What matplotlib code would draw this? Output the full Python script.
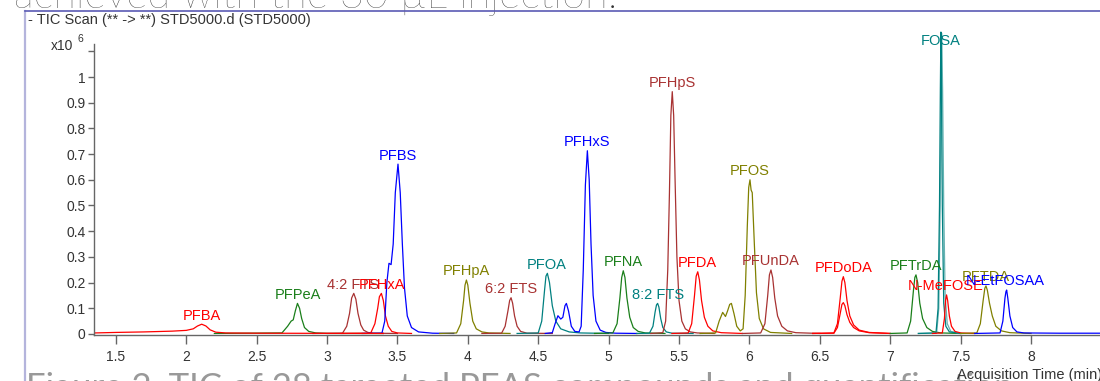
import matplotlib
matplotlib.use("Agg")
import matplotlib.pyplot as plt
from matplotlib.lines import Line2D

plt.rcParams['font.family'] = ['Liberation Sans', 'DejaVu Sans']

# ---------------- data ----------------
x_ticks = [1.5, 2, 2.5, 3, 3.5, 4, 4.5, 5, 5.5, 6, 6.5, 7, 7.5, 8]
x_tick_labels = ['1.5', '2', '2.5', '3', '3.5', '4', '4.5', '5', '5.5', '6', '6.5', '7', '7.5', '8']
y_ticks = [0, 0.1, 0.2, 0.3, 0.4, 0.5, 0.6, 0.7, 0.8, 0.9, 1.0, 1.1]
y_tick_labels = ['0', '0.1', '0.2', '0.3', '0.4', '0.5', '0.6', '0.7', '0.8', '0.9', '1', '']

PFBA_t = [1.35, 1.5, 1.7, 1.9, 2.0, 2.05, 2.08, 2.11, 2.14, 2.17, 2.21, 2.28, 2.5, 3.4]
PFBA_y = [.004, .006, .008, .011, .014, .02, .031, .038, .031, .016, .007, .004, .003, .002]

PFPeA_t = [2.2, 2.68, 2.72, 2.745, 2.76, 2.775, 2.79, 2.805, 2.82, 2.84, 2.87, 2.92, 3.0, 3.4]
PFPeA_y = [.002, .004, .03, .05, .055, .09, .119, .10, .06, .025, .01, .004, .002, .002]

FTS42_t = [2.9, 3.11, 3.14, 3.16, 3.175, 3.19, 3.205, 3.22, 3.24, 3.26, 3.29, 3.33, 3.5]
FTS42_y = [.002, .003, .03, .08, .14, .158, .135, .08, .035, .015, .006, .003, .002]

PFHxA_t = [3.1, 3.31, 3.34, 3.36, 3.372, 3.386, 3.40, 3.415, 3.435, 3.46, 3.5, 3.6]
PFHxA_y = [.002, .003, .04, .10, .145, .158, .13, .07, .03, .01, .004, .002]

PFBS_t = [3.25, 3.39, 3.41, 3.425, 3.44, 3.455, 3.47, 3.485, 3.504, 3.52, 3.535, 3.55, 3.57, 3.6, 3.65, 3.75, 3.9]
PFBS_y = [.002, .003, .05, .2, .275, .27, .35, .55, .661, .55, .35, .18, .07, .025, .008, .003, .002]

PFHpA_t = [3.8, 3.92, 3.95, 3.97, 3.98, 3.99, 4.0, 4.015, 4.035, 4.06, 4.1, 4.15, 4.3]
PFHpA_y = [.002, .004, .04, .13, .19, .21, .19, .12, .05, .02, .008, .004, .002]

FTS62_t = [4.1, 4.24, 4.265, 4.285, 4.297, 4.307, 4.318, 4.332, 4.35, 4.375, 4.42, 4.6]
FTS62_y = [.002, .003, .03, .09, .13, .141, .12, .07, .03, .01, .003, .002]

PFOA_t = [4.35, 4.5, 4.525, 4.545, 4.555, 4.565, 4.58, 4.6, 4.625, 4.66, 4.72, 4.8, 5.0]
PFOA_y = [.002, .004, .05, .17, .225, .236, .20, .11, .05, .02, .008, .004, .002]

PFHxS_t = [4.55, 4.6, 4.62, 4.64, 4.66, 4.675, 4.69, 4.70, 4.715, 4.735, 4.76, 4.79, 4.805, 4.82,
           4.835, 4.849, 4.862, 4.875, 4.89, 4.91, 4.94, 4.98, 5.05, 5.2]
PFHxS_y = [.002, .005, .04, .071, .058, .065, .11, .119, .09, .03, .01, .008, .03, .25,
           .58, .713, .6, .35, .15, .05, .015, .006, .003, .002]

PFNA_t = [4.9, 5.03, 5.06, 5.08, 5.093, 5.104, 5.116, 5.13, 5.15, 5.175, 5.21, 5.26, 5.4]
PFNA_y = [.002, .004, .04, .14, .22, .246, .22, .14, .065, .025, .01, .004, .002]

FTS82_t = [5.2, 5.29, 5.315, 5.33, 5.34, 5.348, 5.357, 5.37, 5.385, 5.41, 5.45, 5.6]
FTS82_y = [.002, .003, .03, .085, .113, .119, .105, .06, .025, .008, .003, .002]

PFHpS_t = [5.3, 5.385, 5.405, 5.42, 5.432, 5.442, 5.452, 5.462, 5.472, 5.485, 5.5, 5.52, 5.545, 5.58, 5.63, 5.75]
PFHpS_y = [.002, .005, .05, .25, .55, .85, .943, .85, .6, .3, .13, .05, .02, .008, .004, .002]

PFDA_t = [5.45, 5.565, 5.59, 5.61, 5.622, 5.633, 5.645, 5.66, 5.68, 5.705, 5.74, 5.8, 5.95]
PFDA_y = [.002, .004, .04, .15, .225, .242, .21, .13, .065, .03, .012, .005, .002]

PFOS_t = [5.65, 5.76, 5.785, 5.81, 5.83, 5.845, 5.86, 5.872, 5.89, 5.91, 5.935, 5.955, 5.97, 5.985,
          5.995, 6.004, 6.012, 6.02, 6.035, 6.05, 6.07, 6.1, 6.15, 6.3]
PFOS_y = [.002, .004, .05, .084, .068, .09, .115, .119, .08, .03, .012, .02, .15, .42,
          .57, .6, .56, .55, .35, .16, .06, .02, .006, .002]

PFUnDA_t = [5.95, 6.08, 6.11, 6.13, 6.142, 6.153, 6.165, 6.18, 6.2, 6.23, 6.27, 6.33, 6.5]
PFUnDA_y = [.002, .004, .04, .15, .23, .249, .22, .14, .07, .03, .012, .005, .002]

PFDoDA_t = [6.45, 6.6, 6.625, 6.645, 6.657, 6.667, 6.678, 6.693, 6.713, 6.74, 6.78, 6.85, 7.0]
PFDoDA_y = [.002, .004, .04, .14, .205, .223, .2, .13, .07, .035, .015, .006, .002]
PFDoDA2_y = [.002, .003, .025, .08, .115, .122, .11, .075, .045, .025, .012, .005, .002]

PFTrDA_t = [7.0, 7.12, 7.145, 7.165, 7.175, 7.183, 7.195, 7.21, 7.23, 7.26, 7.3, 7.36, 7.5]
PFTrDA_y = [.002, .004, .05, .17, .22, .23, .2, .12, .06, .025, .01, .004, .002]

FOSA_t = [7.2, 7.325, 7.34, 7.35, 7.356, 7.36, 7.364, 7.37, 7.38, 7.395, 7.42, 7.5]
FOSA_y = [.002, .004, .1, .5, .95, 1.175, .95, .5, .12, .03, .008, .002]
FOSA2_t = [7.2, 7.33, 7.345, 7.355, 7.362, 7.366, 7.372, 7.38, 7.39, 7.405, 7.43, 7.5]
FOSA2_y = [.002, .004, .1, .5, .95, 1.17, .95, .5, .15, .04, .01, .002]

NMeFOSE_t = [7.3, 7.37, 7.385, 7.393, 7.4, 7.408, 7.42, 7.435, 7.46, 7.5, 7.6]
NMeFOSE_y = [.002, .004, .06, .13, .152, .13, .07, .03, .01, .004, .002]

PFTDA_t = [7.5, 7.615, 7.64, 7.66, 7.672, 7.68, 7.69, 7.705, 7.725, 7.75, 7.79, 7.85, 8.0]
PFTDA_y = [.002, .004, .04, .13, .178, .187, .17, .12, .07, .03, .012, .005, .002]

NEtFOSAA_t = [7.6, 7.78, 7.8, 7.815, 7.822, 7.827, 7.835, 7.85, 7.87, 7.9, 7.95, 8.2, 8.7]
NEtFOSAA_y = [.002, .004, .05, .14, .165, .171, .14, .07, .025, .008, .004, .003, .003]

label_names = ['PFBA', 'PFPeA', '4:2 FTS', 'PFHxA', 'PFBS', 'PFHpA', '6:2 FTS', 'PFOA', 'PFHxS',
               'PFNA', '8:2 FTS', 'PFHpS', 'PFDA', 'PFOS', 'PFUnDA', 'PFDoDA', 'PFTrDA',
               'N-MeFOSE', 'PFTDA', 'N-EtFOSAA']
label_times = [2.11, 2.79, 3.185, 3.39, 3.5, 3.99, 4.307, 4.56, 4.849, 5.104, 5.348, 5.452, 5.633,
               6.004, 6.153, 6.667, 7.183, 7.39, 7.68, 7.82]
label_heights = [.038, .119, .158, .158, .661, .21, .141, .236, .713, .246, .119, .943, .242,
                 .6, .249, .223, .23, .152, .187, .171]
FOSA_label = ('FOSA', 7.36, 1.14)

# ---------------- styles ----------------
RED = '#ff0000'
BLUE = '#0000ff'
GREEN = '#1a7f1a'
BROWN = '#a83232'
OLIVE = '#808000'
TEAL = '#008080'
LTEAL = '#66b3b3'

traces = [
    (PFPeA_t, PFPeA_y, GREEN),
    (FTS42_t, FTS42_y, BROWN),
    (PFHxA_t, PFHxA_y, RED),
    (PFBS_t, PFBS_y, BLUE),
    (PFHpA_t, PFHpA_y, OLIVE),
    (FTS62_t, FTS62_y, BROWN),
    (PFOA_t, PFOA_y, TEAL),
    (PFHxS_t, PFHxS_y, BLUE),
    (PFNA_t, PFNA_y, GREEN),
    (FTS82_t, FTS82_y, TEAL),
    (PFHpS_t, PFHpS_y, BROWN),
    (PFDA_t, PFDA_y, RED),
    (PFOS_t, PFOS_y, OLIVE),
    (PFUnDA_t, PFUnDA_y, BROWN),
    (PFDoDA_t, PFDoDA2_y, RED),
    (PFDoDA_t, PFDoDA_y, RED),
    (PFTrDA_t, PFTrDA_y, GREEN),
    (FOSA2_t, FOSA2_y, LTEAL),
    (FOSA_t, FOSA_y, TEAL),
    (NMeFOSE_t, NMeFOSE_y, RED),
    (PFTDA_t, PFTDA_y, OLIVE),
    (NEtFOSAA_t, NEtFOSAA_y, BLUE),
    (PFBA_t, PFBA_y, RED),
]
label_colors = [RED, GREEN, BROWN, RED, BLUE, OLIVE, BROWN, TEAL, BLUE, GREEN, TEAL, BROWN, RED,
                OLIVE, BROWN, RED, GREEN, RED, OLIVE, BLUE]

W, H = 1100, 381
fig = plt.figure(figsize=(W / 100, H / 100), dpi=100)

# surrounding document text, cropped by the screenshot (drawn underneath)
fig.text(14 / W, 1 - 8.5 / H, 'achieved with the 30 µL injection.', ha='left', va='baseline',
         fontsize=30, color='#333333', family=['Lato', 'DejaVu Sans'], fontweight='light', zorder=0)
fig.text(26 / W, 1 - 372 / H, 'Figure 2. TIC of 28 targeted PFAS compounds and quantification',
         ha='left', va='top', fontsize=25, color='#999999', family=['Lato', 'DejaVu Sans'], zorder=0)

# axes geometry (pixel based)
left_px, right_px, bottom_px, top_px = 94, 1130, 335, 43.6
ax = fig.add_axes([left_px / W, (H - bottom_px) / H, (right_px - left_px) / W, (bottom_px - top_px) / H])
ax.patch.set_alpha(0)
ax.set_xlim(1.345, 8.703)
ax.set_ylim(-0.004, 1.13)

for t, y, c in traces:
    ax.plot(t, y, color=c, lw=0.9, clip_on=False, solid_joinstyle='round')

for name, tt, hh, c in zip(label_names, label_times, label_heights, label_colors):
    ax.annotate(name, xy=(tt, hh), xytext=(0, 3.3), textcoords='offset points',
                ha='center', va='baseline', color=c, fontsize=10.5)
ax.text(FOSA_label[1], FOSA_label[2], FOSA_label[0], ha='center', va='center',
        color=TEAL, fontsize=10.5, clip_on=False)

for s in ['top', 'right']:
    ax.spines[s].set_visible(False)
for s in ['left', 'bottom']:
    ax.spines[s].set_color('#666666')
    ax.spines[s].set_linewidth(1.0)

ax.set_xticks(x_ticks)
ax.set_xticklabels(x_tick_labels)
ax.set_yticks(y_ticks)
ax.set_yticklabels(y_tick_labels)
ax.tick_params(axis='x', length=6.5, width=1, color='#666666', pad=4, labelsize=10, labelcolor='#333333')
ax.tick_params(axis='y', length=4, width=1, color='#666666', pad=2, labelsize=10, labelcolor='#333333')

# x10^6 multiplier
fig.text(73 / W, 1 - 49.5 / H, 'x10', ha='right', va='baseline', fontsize=10, color='#333333')
fig.text(77 / W, 1 - 42 / H, '6', ha='left', va='baseline', fontsize=7.5, color='#333333')

# x axis title (cropped at right edge)
fig.text(957 / W, 1 - 374.6 / H, 'Acquisition Time (min)', ha='left', va='center',
         fontsize=10.5, color='#333333')

# header text
fig.text(28 / W, 1 - 20 / H, '- TIC Scan (** -> **) STD5000.d (STD5000)', ha='left', va='center',
         fontsize=10.5, color='#333333')

# frame lines
fig.add_artist(Line2D([25 / W, 25 / W], [0, 1 - 10.5 / H], transform=fig.transFigure,
                      color='#b4b4dc', lw=1.6))
fig.add_artist(Line2D([25 / W, 1], [1 - 10.5 / H, 1 - 10.5 / H], transform=fig.transFigure,
                      color='#5a5ab4', lw=1.2))

fig.savefig('out.png', dpi=100)
